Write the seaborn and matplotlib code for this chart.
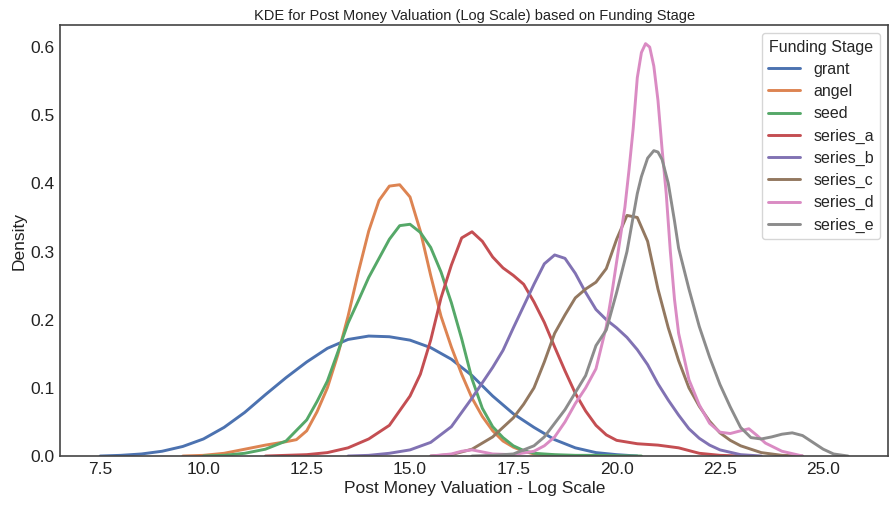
import matplotlib
matplotlib.use("Agg")
import matplotlib.pyplot as plt
import seaborn as sns
import pandas as pd

# Funding stages in legend order
stages = ["grant", "angel", "seed", "series_a", "series_b", "series_c", "series_d", "series_e"]

# Estimated density of log post-money valuation per stage
grant_x = [7.5, 8.0, 8.5, 9.0, 9.5, 10.0, 10.5, 11.0, 11.5, 12.0, 12.5, 13.0, 13.5, 14.0,
           14.5, 15.0, 15.5, 16.0, 16.5, 17.0, 17.5, 18.0, 18.5, 19.0, 19.5, 20.0, 20.5]
grant_y = [0.0, 0.001, 0.003, 0.007, 0.014, 0.025, 0.042, 0.064, 0.090, 0.115, 0.138, 0.158,
           0.171, 0.176, 0.175, 0.170, 0.159, 0.142, 0.118, 0.088, 0.062, 0.042, 0.024, 0.012,
           0.005, 0.002, 0.0]

angel_x = [9.5, 10.0, 10.5, 11.0, 11.5, 12.0, 12.25, 12.5, 12.75, 13.0, 13.25, 13.5, 13.75,
           14.0, 14.25, 14.5, 14.75, 15.0, 15.25, 15.5, 15.75, 16.0, 16.25, 16.5, 16.75, 17.0,
           17.25, 17.5, 17.75, 18.0, 18.5, 19.0]
angel_y = [0.0, 0.001, 0.004, 0.010, 0.016, 0.021, 0.024, 0.037, 0.065, 0.100, 0.148, 0.205,
           0.270, 0.330, 0.375, 0.396, 0.398, 0.380, 0.330, 0.265, 0.205, 0.160, 0.120, 0.085,
           0.058, 0.037, 0.022, 0.013, 0.007, 0.003, 0.001, 0.0]

seed_x = [10.0, 10.5, 11.0, 11.5, 12.0, 12.5, 12.75, 13.0, 13.25, 13.5, 13.75, 14.0, 14.25,
          14.5, 14.75, 15.0, 15.25, 15.5, 15.75, 16.0, 16.25, 16.5, 16.75, 17.0, 17.25, 17.5,
          17.75, 18.0, 18.5, 19.0, 19.5, 20.0, 20.6]
seed_y = [0.0, 0.001, 0.004, 0.010, 0.022, 0.053, 0.080, 0.110, 0.152, 0.195, 0.228, 0.262,
          0.290, 0.318, 0.338, 0.340, 0.328, 0.306, 0.270, 0.225, 0.172, 0.113, 0.070, 0.043,
          0.027, 0.015, 0.008, 0.004, 0.002, 0.001, 0.001, 0.0005, 0.0]

series_a_x = [11.5, 12.0, 12.5, 13.0, 13.5, 14.0, 14.5, 15.0, 15.25, 15.5, 15.75, 16.0, 16.25,
              16.5, 16.75, 17.0, 17.25, 17.5, 17.75, 18.0, 18.25, 18.5, 18.75, 19.0, 19.25,
              19.5, 19.75, 20.0, 20.5, 21.0, 21.5, 22.0, 22.5, 23.0]
series_a_y = [0.0, 0.001, 0.002, 0.005, 0.012, 0.025, 0.045, 0.088, 0.120, 0.170, 0.232, 0.280,
              0.320, 0.329, 0.315, 0.292, 0.276, 0.265, 0.252, 0.226, 0.196, 0.160, 0.125,
              0.092, 0.066, 0.045, 0.031, 0.023, 0.018, 0.016, 0.012, 0.004, 0.001, 0.0]

series_b_x = [13.5, 14.0, 14.5, 15.0, 15.5, 16.0, 16.5, 17.0, 17.25, 17.5, 17.75, 18.0, 18.25,
              18.5, 18.75, 19.0, 19.25, 19.5, 19.75, 20.0, 20.25, 20.5, 20.75, 21.0, 21.25,
              21.5, 21.75, 22.0, 22.25, 22.5, 23.0, 23.5]
series_b_y = [0.0, 0.001, 0.004, 0.009, 0.020, 0.043, 0.085, 0.130, 0.155, 0.188, 0.220, 0.252,
              0.282, 0.295, 0.290, 0.268, 0.240, 0.215, 0.200, 0.188, 0.174, 0.156, 0.134,
              0.106, 0.082, 0.060, 0.040, 0.026, 0.016, 0.009, 0.002, 0.0]

series_c_x = [15.5, 16.0, 16.5, 17.0, 17.5, 17.75, 18.0, 18.25, 18.5, 18.75, 19.0, 19.25, 19.5,
              19.75, 20.0, 20.25, 20.5, 20.75, 21.0, 21.25, 21.5, 21.75, 22.0, 22.25, 22.5,
              22.75, 23.0, 23.5, 24.0, 24.5]
series_c_y = [0.0, 0.002, 0.010, 0.028, 0.056, 0.076, 0.100, 0.138, 0.180, 0.207, 0.232, 0.245,
              0.255, 0.275, 0.318, 0.353, 0.350, 0.315, 0.245, 0.188, 0.140, 0.100, 0.073,
              0.051, 0.034, 0.023, 0.015, 0.005, 0.001, 0.0]

series_d_x = [15.5, 16.0, 16.25, 16.5, 16.75, 17.0, 17.5, 18.0, 18.25, 18.5, 18.75, 19.0, 19.25,
              19.5, 19.75, 19.9, 20.0, 20.1, 20.2, 20.3, 20.4, 20.5, 20.6, 20.7, 20.8, 20.9,
              21.0, 21.1, 21.2, 21.3, 21.4, 21.5, 21.75, 22.0, 22.25, 22.5, 22.75, 23.0, 23.2,
              23.4, 23.6, 24.0, 24.5]
series_d_y = [0.0, 0.003, 0.007, 0.009, 0.006, 0.003, 0.002, 0.007, 0.015, 0.028, 0.050, 0.077,
              0.100, 0.128, 0.190, 0.245, 0.285, 0.325, 0.365, 0.420, 0.480, 0.555, 0.592,
              0.605, 0.600, 0.572, 0.522, 0.450, 0.385, 0.300, 0.230, 0.180, 0.112, 0.075,
              0.048, 0.035, 0.033, 0.037, 0.040, 0.030, 0.019, 0.007, 0.0]

series_e_x = [16.5, 17.0, 17.5, 18.0, 18.25, 18.5, 18.75, 19.0, 19.25, 19.5, 19.75, 20.0, 20.25,
              20.5, 20.6, 20.75, 20.9, 21.0, 21.1, 21.25, 21.4, 21.5, 21.75, 22.0, 22.25, 22.5,
              22.75, 23.0, 23.25, 23.5, 23.75, 24.0, 24.25, 24.5, 24.75, 25.0, 25.25, 25.6]
series_e_y = [0.0, 0.001, 0.003, 0.015, 0.028, 0.048, 0.068, 0.093, 0.118, 0.162, 0.185, 0.240,
              0.300, 0.385, 0.410, 0.437, 0.448, 0.446, 0.435, 0.400, 0.345, 0.305, 0.245,
              0.190, 0.145, 0.105, 0.072, 0.042, 0.027, 0.025, 0.028, 0.032, 0.034, 0.030,
              0.020, 0.010, 0.003, 0.0]

curves = {
    "grant": (grant_x, grant_y),
    "angel": (angel_x, angel_y),
    "seed": (seed_x, seed_y),
    "series_a": (series_a_x, series_a_y),
    "series_b": (series_b_x, series_b_y),
    "series_c": (series_c_x, series_c_y),
    "series_d": (series_d_x, series_d_y),
    "series_e": (series_e_x, series_e_y),
}

df = pd.concat(
    [pd.DataFrame({"value": xs, "density": ys, "stage": name})
     for name, (xs, ys) in curves.items()],
    ignore_index=True,
)

sns.set_theme(style="white")
plt.rcParams["font.family"] = ["Liberation Sans", "DejaVu Sans"]

fig, ax = plt.subplots(figsize=(8.89, 5.05), dpi=100)
fig.subplots_adjust(left=0.068, right=0.999, bottom=0.097, top=0.95)

sns.lineplot(
    data=df, x="value", y="density", hue="stage", hue_order=stages,
    palette="deep", estimator=None, sort=False, linewidth=2.1, ax=ax,
)

ax.set_xlim(6.54, 26.57)
ax.set_ylim(0, 0.632)
ax.set_xticks([7.5, 10.0, 12.5, 15.0, 17.5, 20.0, 22.5, 25.0])
ax.set_yticks([0.0, 0.1, 0.2, 0.3, 0.4, 0.5, 0.6])
ax.tick_params(axis="both", labelsize=12.5, length=0, pad=4, colors="#222222")

ax.set_title("KDE for Post Money Valuation (Log Scale) based on Funding Stage",
             fontsize=10.5, pad=4, color="#222222")
ax.set_xlabel("Post Money Valuation - Log Scale", fontsize=12.5, labelpad=3, color="#222222")
ax.set_ylabel("Density", fontsize=12.5, labelpad=3, color="#222222")

for spine in ax.spines.values():
    spine.set_color("#444444")
    spine.set_linewidth(1.2)

handles, labels = ax.get_legend_handles_labels()
ax.legend(handles, labels, title="Funding Stage", loc="upper right",
          fontsize=11.5, title_fontsize=11.5, labelspacing=0.45,
          handlelength=2.0, frameon=True)

fig.savefig("out.png", dpi=100)
